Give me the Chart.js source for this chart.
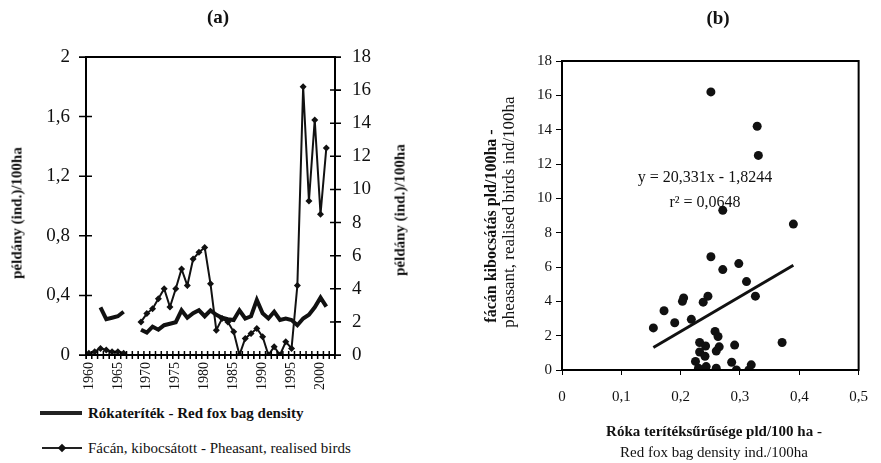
<!DOCTYPE html>
<html>
<head>
<meta charset="utf-8">
<script src="https://cdn.jsdelivr.net/npm/chart.js@4"></script>
<style>
    body { margin: 0; background: #fff; }
    #wrap { position: relative; width: 881px; height: 463px; overflow: hidden; font-family: "Liberation Serif", "Times New Roman", serif; color: #111; }
    canvas { position: absolute; top: 0; }
    .txt { position: absolute; white-space: nowrap; transform: translate(-50%, -50%); }
    .rot { transform: translate(-50%, -50%) rotate(-90deg); }
    .b { font-weight: bold; }
    .leg { position: absolute; white-space: nowrap; transform: translateY(-50%); font-size: 15px; }
</style>
</head>
<body>
<div id="wrap">
    <canvas id="chartA" width="440" height="400" style="left:0"></canvas>
    <canvas id="chartB" width="441" height="463" style="left:440px"></canvas>

    <div class="txt b" style="left:218px; top:17px; font-size:19px">(a)</div>
    <div class="txt b" style="left:718px; top:18px; font-size:19px">(b)</div>

    <div class="txt rot b" style="left:17px; top:213px; font-size:15px">példány (ind.)/100ha</div>
    <div class="txt rot b" style="left:400px; top:210px; font-size:15px">példány (ind.)/100ha</div>

    <div style="position:absolute; left:40px; top:411px; width:42px; height:4px; background:#222"></div>
    <div class="leg b" style="left:88px; top:413px">Rókateríték - Red fox bag density</div>
    <div style="position:absolute; left:42px; top:447px; width:40px; height:2px; background:#222"></div>
    <div style="position:absolute; left:59px; top:445px; width:6px; height:6px; background:#111; transform:rotate(45deg)"></div>
    <div class="leg" style="left:88px; top:448px">Fácán, kibocsátott - Pheasant, realised birds</div>

    <div class="txt rot b" style="left:491px; top:226px; font-size:16px">fácán kibocsátás pld/100ha -</div>
    <div class="txt rot" style="left:509px; top:212px; font-size:17px">pheasant, realised birds ind/100ha</div>

    <div class="txt b" style="left:714px; top:431px; font-size:15px">Róka terítéksűrűsége pld/100 ha -</div>
    <div class="txt" style="left:714px; top:452px; font-size:15px">Red fox bag density ind./100ha</div>

    <div class="txt" style="left:705px; top:177px; font-size:16px">y = 20,331x - 1,8244</div>
    <div class="txt" style="left:705px; top:202px; font-size:16px">r² = 0,0648</div>
</div>

<script>
// (a) yearly series
const years = [1960, 1961, 1962, 1963, 1964, 1965, 1966, 1967, 1968, 1969,
               1970, 1971, 1972, 1973, 1974, 1975, 1976, 1977, 1978, 1979,
               1980, 1981, 1982, 1983, 1984, 1985, 1986, 1987, 1988, 1989,
               1990, 1991, 1992, 1993, 1994, 1995, 1996, 1997, 1998, 1999,
               2000, 2001, 2002];
const foxDensity = [null, null, 0.32, 0.24, 0.25, 0.26, 0.29, null, null, 0.17,
                    0.15, 0.19, 0.17, 0.20, 0.21, 0.22, 0.30, 0.25, 0.28, 0.30,
                    0.26, 0.30, 0.27, 0.25, 0.24, 0.235, 0.30, 0.245, 0.26, 0.37,
                    0.28, 0.245, 0.29, 0.235, 0.245, 0.235, 0.20, 0.245, 0.27, 0.32,
                    0.385, 0.325, null];
const pheasantReleased = [0.1, 0.2, 0.4, 0.3, 0.2, 0.2, 0.1, null, null, 2.0,
                          2.5, 2.8, 3.4, 4.0, 2.9, 4.0, 5.2, 4.2, 5.8, 6.2,
                          6.5, 4.3, 1.5, 2.2, 2.0, 1.4, 0, 1.0, 1.3, 1.6,
                          1.1, 0, 0.5, 0, 0.8, 0.4, 4.2, 16.2, 9.3, 14.2,
                          8.5, 12.5, null];

// (b) scatter: fox bag density vs released pheasants
const scatterFox = [0.251, 0.329, 0.331, 0.271, 0.390, 0.251, 0.298, 0.271, 0.311, 0.205,
                    0.203, 0.246, 0.238, 0.326, 0.172, 0.190, 0.218, 0.154, 0.258, 0.263,
                    0.232, 0.242, 0.265, 0.260, 0.291, 0.371, 0.232, 0.241, 0.225, 0.286,
                    0.230, 0.238, 0.243, 0.260, 0.294, 0.315, 0.319];
const scatterPheasant = [16.2, 14.2, 12.5, 9.3, 8.5, 6.6, 6.2, 5.85, 5.15, 4.2,
                         4.0, 4.3, 3.95, 4.3, 3.45, 2.75, 2.95, 2.45, 2.25, 1.95,
                         1.6, 1.4, 1.35, 1.1, 1.45, 1.6, 1.05, 0.8, 0.5, 0.45,
                         0.1, 0.0, 0.2, 0.1, 0.0, 0.0, 0.3];
const trendSlope = 20.331;
const trendIntercept = -1.8244;

const SERIF = '"Liberation Serif", "Times New Roman", serif';
const INK = '#111';
const LINE = '#000';

const comma = v => (Math.round(v * 10) / 10).toString().replace('.', ',');

// plot frame around the chart area
const plotFrame = {
    id: 'plotFrame',
    afterDraw(chart) {
        const { ctx, chartArea: a } = chart;
        ctx.save();
        ctx.strokeStyle = LINE;
        ctx.lineWidth = 2;
        ctx.strokeRect(a.left, a.top, a.right - a.left, a.bottom - a.top);
        ctx.restore();
    }
};

// tick marks crossing the axis lines (panel a)
const crossTicks = {
    id: 'crossTicks',
    afterDraw(chart) {
        const { ctx, chartArea: a, scales } = chart;
        ctx.save();
        ctx.strokeStyle = LINE;
        ctx.lineWidth = 1.5;
        ctx.beginPath();
        scales.y.ticks.forEach((t, i) => {
            const y = scales.y.getPixelForTick(i);
            ctx.moveTo(a.left - 7, y); ctx.lineTo(a.left + 6, y);
        });
        scales.y1.ticks.forEach((t, i) => {
            const y = scales.y1.getPixelForTick(i);
            ctx.moveTo(a.right - 5, y); ctx.lineTo(a.right + 6, y);
        });
        const step = scales.x.getPixelForValue(1) - scales.x.getPixelForValue(0);
        for (let i = 0; i <= years.length; i++) {
            const x = scales.x.getPixelForValue(0) + (i - 0.5) * step;
            ctx.moveTo(x, a.bottom - 4); ctx.lineTo(x, a.bottom + 4);
        }
        ctx.stroke();
        ctx.restore();
    }
};

new Chart(document.getElementById('chartA'), {
    type: 'line',
    data: {
        labels: years.map(String),
        datasets: [{
            data: foxDensity,
            yAxisID: 'y',
            borderColor: INK,
            borderWidth: 4,
            pointRadius: 0,
            tension: 0
        }, {
            data: pheasantReleased,
            yAxisID: 'y1',
            borderColor: INK,
            borderWidth: 2,
            backgroundColor: INK,
            pointStyle: 'rectRot',
            pointRadius: 3.5,
            pointBorderWidth: 0,
            tension: 0
        }]
    },
    options: {
        responsive: false,
        animation: false,
        layout: { padding: { top: 57, left: 0, right: 0, bottom: 0 } },
        plugins: { legend: { display: false }, tooltip: { enabled: false } },
        scales: {
            x: {
                type: 'category',
                offset: true,
                grid: { offset: true, drawOnChartArea: false, color: LINE, tickLength: 4 },
                border: { color: LINE, width: 1.5 },
                ticks: {
                    autoSkip: false, minRotation: 90, maxRotation: 90, padding: 3,
                    color: INK, font: { family: SERIF, size: 14 },
                    callback: (v, i) => years[i] % 5 === 0 ? String(years[i]) : ''
                },
                afterFit: s => { s.height = 45; }
            },
            y: {
                position: 'left', min: 0, max: 2,
                grid: { drawOnChartArea: false, color: LINE, tickLength: 7 },
                border: { color: LINE, width: 1.5 },
                ticks: { stepSize: 0.4, padding: 9, color: INK, font: { family: SERIF, size: 19 }, callback: comma },
                afterFit: s => { s.width = 86; }
            },
            y1: {
                position: 'right', min: 0, max: 18,
                grid: { drawOnChartArea: false, color: LINE, tickLength: 6 },
                border: { color: LINE, width: 1.5 },
                ticks: { stepSize: 2, padding: 11, color: INK, font: { family: SERIF, size: 19 } },
                afterFit: s => { s.width = 105; }
            }
        }
    },
    plugins: [plotFrame, crossTicks]
});

const xMin = Math.min(...scatterFox);
const xMax = Math.max(...scatterFox);

new Chart(document.getElementById('chartB'), {
    type: 'scatter',
    data: {
        datasets: [{
            data: scatterFox.map((x, i) => ({ x, y: scatterPheasant[i] })),
            backgroundColor: INK,
            pointRadius: 4.5,
            pointBorderWidth: 0
        }, {
            data: [
                { x: xMin, y: trendSlope * xMin + trendIntercept },
                { x: xMax, y: trendSlope * xMax + trendIntercept }
            ],
            showLine: true,
            borderColor: INK,
            borderWidth: 3,
            pointRadius: 0
        }]
    },
    options: {
        responsive: false,
        animation: false,
        layout: { padding: { top: 61, left: 0, right: 15, bottom: 0 } },
        plugins: { legend: { display: false }, tooltip: { enabled: false } },
        scales: {
            x: {
                type: 'linear', min: 0, max: 0.5,
                grid: { drawOnChartArea: false, color: LINE, tickLength: 5 },
                border: { color: LINE, width: 1.5 },
                ticks: { stepSize: 0.1, padding: 13, color: INK, font: { family: SERIF, size: 15 }, callback: comma },
                afterFit: s => { s.height = 93; }
            },
            y: {
                min: 0, max: 18,
                grid: { drawOnChartArea: false, color: LINE, tickLength: 6 },
                border: { color: LINE, width: 1.5 },
                ticks: { stepSize: 2, padding: 4, color: INK, font: { family: SERIF, size: 15 } },
                afterFit: s => { s.width = 122; }
            }
        }
    },
    plugins: [plotFrame]
});
</script>
</body>
</html>
